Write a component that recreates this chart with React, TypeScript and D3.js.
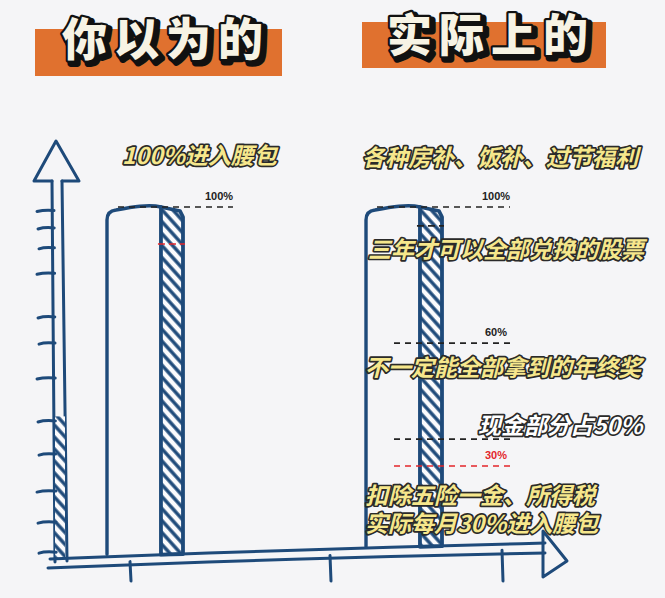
import React from 'react';
import * as d3 from 'd3';

// bars: what you think vs what you actually get
const categories = ['你以为的', '实际上的'];
const barValues = [100, 100];

// dashed reference levels (value on the bar scale, as drawn)
const refCategory = [0, 1, 1, 1, 1];
const refValue = [100, 100, 61, 33.5, 25.8];
const refLabel = ['100%', '100%', '60%', '', '30%'];
const refColor = ['#222', '#222', '#222', '#222', '#e3262b'];

// short marks crossing the hatched bars
const markCategory = [0, 1];
const markValue = [89.4, 94.6];
const markColor = ['#e3262b', '#222'];

// hand drawn ticks on the y axis
const yTicks = [99, 94, 88.3, 81, 68.5, 61, 51, 38.7, 29.2, 18.6, 9.7, 1.1];
// ticks under the x axis
const xTicks = [130, 330, 502];

const headerTexts = ['你以为的', '实际上的'];
const leftNote = '100%进入腰包';
const rightNotes = [
  '各种房补、饭补、过节福利',
  '三年才可以全部兑换的股票',
  '不一定能全部拿到的年终奖',
  '扣除五险一金、所得税',
  '实际每月30%进入腰包',
];
const cashNote = '现金部分占50%';

const W = 665;
const H = 598;
const BLUE = '#1e4a7a';
const ORANGE = '#e0712f';
const YELLOW = '#f6e78c';
const CJK = '"Noto Sans CJK SC", "Noto Sans", sans-serif';

const App: React.FC = () => {
  const y = d3.scaleLinear().domain([0, 100]).range([556, 207]);
  const x = d3
    .scaleBand<number>()
    .domain(d3.range(categories.length))
    .range([107, 442])
    .paddingInner(0.7066)
    .paddingOuter(0);
  const bw = x.bandwidth();
  const hatchW = bw * 0.29;

  // sloping x axis baseline
  const base = d3.scaleLinear().domain([52, 545]).range([558, 543]);

  const noteText = (t: string, px: number, py: number, fill = YELLOW, key?: string) => (
    <text
      key={key}
      x={px}
      y={py}
      fontFamily={CJK}
      fontWeight={700}
      fontStyle="italic"
      fontSize={23}
      fill={fill}
      stroke="#2a2a2a"
      strokeWidth={3.4}
      strokeLinejoin="round"
      paintOrder="stroke"
    >
      {t}
    </text>
  );

  const header = (t: string, cx: number, cy: number) => (
    <g>
      <text x={cx + 3} y={cy + 3} textAnchor="middle" fontFamily={CJK} fontWeight={900}
        fontSize={45} letterSpacing={7} fill="#111" stroke="#111" strokeWidth={7}
        strokeLinejoin="round">{t}</text>
      <text x={cx} y={cy} textAnchor="middle" fontFamily={CJK} fontWeight={900}
        fontSize={45} letterSpacing={7} fill="#f7f3e4" stroke="#111" strokeWidth={4.5}
        strokeLinejoin="round" paintOrder="stroke">{t}</text>
    </g>
  );

  const upperAxis = d3.line().curve(d3.curveBasis)([[50, 559], [200, 553], [400, 547], [545, 543]]);
  const lowerAxis = d3.line().curve(d3.curveBasis)([[48, 568], [200, 562], [400, 556], [545, 553]]);

  return (
    <svg width={W} height={H} style={{ position: 'absolute', left: 0, top: 0, background: '#f5f5f7' }}>
      <defs>
        <pattern id="hatch" patternUnits="userSpaceOnUse" width={8} height={8} patternTransform="rotate(-42)">
          <rect width={8} height={8} fill="#fbfbfd" />
          <line x1={4} y1={0} x2={4} y2={8} stroke={BLUE} strokeWidth={3.4} />
        </pattern>
      </defs>

      {/* headers */}
      <rect x={35} y={29} width={247} height={47} fill={ORANGE} />
      <rect x={362} y={22} width={244} height={46} fill={ORANGE} />
      {header(headerTexts[0], 166, 56)}
      {header(headerTexts[1], 491, 52)}

      {/* y axis arrow */}
      <g fill="none" stroke={BLUE} strokeWidth={3} strokeLinecap="round" strokeLinejoin="round">
        <path d={`M52,181 L55,562`} />
        <path d={`M62,181 L67,561`} />
        <rect x={55} y={y(40)} width={10} height={560 - y(40)} fill="url(#hatch)" stroke="none" />
        <path d="M52,181 L34,181 L56,141 L79,181 L62,181" />
        {yTicks.map((t, i) => (
          <path key={i} d={`M${37 + (i % 3)},${y(t) + 1} Q45,${y(t) - 1} ${54 + i * 0.2},${y(t)}`} />
        ))}
      </g>

      {/* bars */}
      {categories.map((c, i) => {
        const x0 = x(i)!;
        const hx = x0 + bw - hatchW;
        const top = y(barValues[i]);
        const p = d3.path();
        p.moveTo(x0, base(x0) - 2);
        p.lineTo(x0, top + 13);
        p.quadraticCurveTo(x0, top + 4, x0 + 9, top + 3);
        p.bezierCurveTo(x0 + 25, top, x0 + 42, top - 3, hx, top);
        return (
          <g key={c}>
            <path d={p.toString()} fill="none" stroke={BLUE} strokeWidth={3.4} strokeLinecap="round" />
            <path
              d={`M${hx},${top} L${hx + hatchW - 3},${top + 4} L${hx + hatchW},${top + 10} L${hx + hatchW},${base(hx + hatchW)} L${hx},${base(hx)} Z`}
              fill="url(#hatch)"
              stroke={BLUE}
              strokeWidth={3.8}
              strokeLinejoin="round"
            />
          </g>
        );
      })}

      {/* x axis arrow */}
      <g fill="none" stroke={BLUE} strokeWidth={3} strokeLinecap="round" strokeLinejoin="round">
        <path d={upperAxis ?? ''} />
        <path d={lowerAxis ?? ''} />
        <path d="M543,531 L567,561 L543,577 Z" />
        {xTicks.map((t) => (
          <path key={t} d={`M${t},${base(t) + 6} L${t + 1},${581}`} />
        ))}
      </g>

      {/* reference dashed lines */}
      {refValue.map((v, i) => {
        const ci = refCategory[i];
        const x0 = x(ci)!;
        const x1 = x0 + (v === 100 ? 11 : 28);
        const x2 = x0 + bw + (ci === 0 ? 50 : 68);
        return (
          <g key={i}>
            <line x1={x1} x2={x2} y1={y(v)} y2={y(v)} stroke={refColor[i]} strokeWidth={1.6} strokeDasharray="6 5" />
            {refLabel[i] && (
              <text x={x2 - 14} y={y(v) - 7} textAnchor="middle" fontFamily="Liberation Sans, Arial, sans-serif"
                fontWeight={700} fontSize={11} fill={refColor[i]}>{refLabel[i]}</text>
            )}
          </g>
        );
      })}
      {markValue.map((v, i) => {
        const ci = markCategory[i];
        const hx = x(ci)! + bw - hatchW;
        return <line key={i} x1={hx - 3} x2={hx + hatchW + 2} y1={y(v)} y2={y(v)} stroke={markColor[i]}
          strokeWidth={1.6} strokeDasharray="7 4" />;
      })}

      {/* annotations */}
      {noteText(leftNote, 122, 164)}
      {noteText(rightNotes[0], 362, 166, YELLOW, 'n0')}
      {noteText(rightNotes[1], 368, 258, YELLOW, 'n1')}
      {noteText(rightNotes[2], 365, 376, YELLOW, 'n2')}
      {noteText(cashNote, 478, 434, '#ffffff')}
      {noteText(rightNotes[3], 365, 504, YELLOW, 'n3')}
      {noteText(rightNotes[4], 365, 532, YELLOW, 'n4')}
    </svg>
  );
};

export default App;
